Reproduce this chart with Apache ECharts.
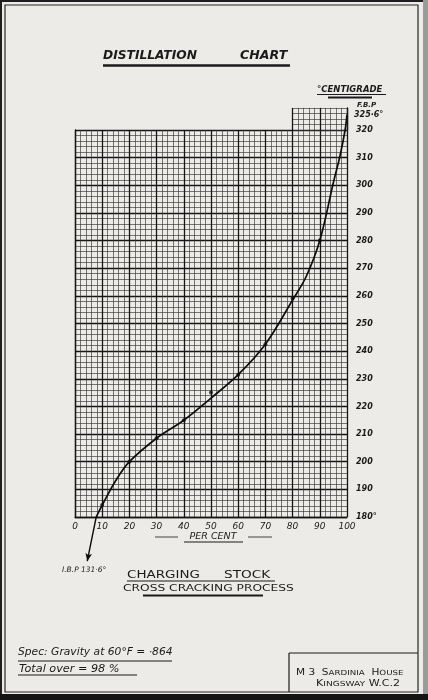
<!DOCTYPE html>
<html>
<head>
<meta charset="utf-8">
<script src="https://cdn.jsdelivr.net/npm/echarts@6/dist/echarts.min.js"></script>
<style>
  html, body { margin: 0; padding: 0; background: #ecebe8; }
  #chart { width: 428px; height: 700px; }
</style>
</head>
<body>
<div id="chart"></div>
<script>
// distillation curve (per cent distilled / deg C)
const percent = [7.8, 10, 15, 20, 30, 40, 50, 60, 70, 80, 85, 90, 95, 97.4, 99.3, 100];
const temp = [180, 184.3, 193.2, 200, 208.5, 215, 223, 231.5, 242.5, 258.5, 267, 280, 301, 310.5, 320, 325.6];

// the little tick marks on the curve (test readings)
const testPercent = [10, 20, 30, 40, 50, 60, 70, 80, 90];
const testTemp = [184.3, 200, 208.5, 215, 225, 231.5, 242.5, 259, 280];

// arrow down to I.B.P
const ibpPercent = [7.8, 4.5];
const ibpTemp = [180, 164];

const xTicks = [0, 10, 20, 30, 40, 50, 60, 70, 80, 90, 100];
const yTicks = [180, 190, 200, 210, 220, 230, 240, 250, 260, 270, 280, 290, 300, 310, 320];
const extX = [80, 100];   // the raised bit of paper above 320
const extY = [320, 328];

const ink = '#1b1b1b';
const hand = '"DejaVu Sans", sans-serif';

const myChart = echarts.init(document.getElementById('chart'), null, { renderer: 'canvas' });

// grid geometry
const gl = 75, gt = 130, gw = 272, gh = 387;
const pxPerDeg = gh / (yTicks[yTicks.length - 1] - yTicks[0]);
const pxPerPc = gw / (xTicks[xTicks.length - 1] - xTicks[0]);

const major = { show: true, lineStyle: { color: '#151515', width: 1.3 } };
const minor = { show: true, lineStyle: { color: '#333', width: 0.65 } };

const text = (x, y, t, font, extra) => Object.assign({
  type: 'text', x: x, y: y,
  style: { text: t, font: font, fill: ink, verticalAlign: 'middle' }
}, extra || {});
const line = (x1, y1, x2, y2, w) => ({
  type: 'line', shape: { x1: x1, y1: y1, x2: x2, y2: y2 },
  style: { stroke: ink, lineWidth: w || 1 }
});

const option = {
  backgroundColor: '#ecebe8',
  animation: false,
  grid: [
    { left: gl, top: gt, width: gw, height: gh },
    {
      left: gl + (extX[0] - xTicks[0]) * pxPerPc,
      top: gt - (extY[1] - extY[0]) * pxPerDeg,
      width: (extX[1] - extX[0]) * pxPerPc,
      height: (extY[1] - extY[0]) * pxPerDeg
    }
  ],
  xAxis: [
    {
      type: 'value', gridIndex: 0,
      min: xTicks[0], max: xTicks[xTicks.length - 1], interval: 10,
      axisLine: { show: true, lineStyle: { color: '#151515', width: 1.3 } },
      axisTick: { show: false },
      minorTick: { show: false, splitNumber: 5 },
      splitLine: major,
      minorSplitLine: minor,
      axisLabel: {
        margin: 5, color: ink, fontSize: 9, fontStyle: 'italic', fontFamily: hand,
        formatter: v => xTicks.includes(v) ? String(v) : ''
      }
    },
    {
      type: 'value', gridIndex: 1,
      min: extX[0], max: extX[1], interval: 10,
      axisLine: { show: false }, axisTick: { show: false }, axisLabel: { show: false },
      minorTick: { show: false, splitNumber: 5 },
      splitLine: major,
      minorSplitLine: minor
    }
  ],
  yAxis: [
    {
      type: 'value', gridIndex: 0, position: 'right',
      min: yTicks[0], max: yTicks[yTicks.length - 1], interval: 10,
      axisLine: { show: true, lineStyle: { color: '#151515', width: 1.3 } },
      axisTick: { show: false },
      minorTick: { show: false, splitNumber: 5 },
      splitLine: major,
      minorSplitLine: minor,
      axisLabel: {
        margin: 9, color: ink, fontSize: 8, fontStyle: 'italic', fontWeight: 'bold', fontFamily: hand,
        formatter: v => v === yTicks[0] ? v + '°' : String(v)
      }
    },
    {
      type: 'value', gridIndex: 1, position: 'right',
      min: extY[0], max: extY[1], interval: 2,
      axisLine: { show: true, lineStyle: { color: '#151515', width: 1.3 } },
      axisTick: { show: false }, axisLabel: { show: false },
      splitLine: minor
    }
  ],
  series: [
    {
      name: 'curve',
      type: 'line',
      xAxisIndex: 0, yAxisIndex: 0,
      data: percent.map((p, i) => [p, temp[i]]),
      smooth: 0.35,
      showSymbol: false,
      clip: false,
      lineStyle: { color: '#0d0d0d', width: 1.7 },
      z: 5
    },
    {
      name: 'tests',
      type: 'scatter',
      xAxisIndex: 0, yAxisIndex: 0,
      data: testPercent.map((p, i) => [p, testTemp[i]]),
      symbol: 'circle',
      symbolSize: 4,
      itemStyle: { color: '#0d0d0d' },
      z: 6
    },
    {
      name: 'ibp',
      type: 'line',
      xAxisIndex: 0, yAxisIndex: 0,
      clip: false,
      data: ibpPercent.map((p, i) => i === ibpPercent.length - 1
        ? { value: [p, ibpTemp[i]], symbol: 'arrow', symbolSize: [5, 8], symbolRotate: 169 }
        : { value: [p, ibpTemp[i]], symbol: 'none' }),
      showSymbol: true,
      itemStyle: { color: '#0d0d0d' },
      lineStyle: { color: '#0d0d0d', width: 1.4 },
      z: 5
    }
  ],
  graphic: [
    // photo edges and the card's frame
    { type: 'rect', shape: { x: 0, y: 0, width: 428, height: 2 }, style: { fill: '#1e1e1e' } },
    { type: 'rect', shape: { x: 0, y: 0, width: 2, height: 700 }, style: { fill: '#1e1e1e' } },
    { type: 'rect', shape: { x: 423, y: 0, width: 5, height: 700 }, style: { fill: '#9b9b99' } },
    { type: 'rect', shape: { x: 0, y: 694, width: 428, height: 6 }, style: { fill: '#141414' } },
    { type: 'rect', shape: { x: 5, y: 5, width: 413, height: 687 }, style: { fill: 'none', stroke: '#262626', lineWidth: 1.2 } },

    // title
    text(103, 56, 'DISTILLATION', 'italic bold 12px ' + hand, { scaleX: 1.02 }),
    text(240, 56, 'CHART', 'italic bold 12px ' + hand, { scaleX: 1.05 }),
    line(103, 65.5, 290, 65.5, 2.5),

    // units
    text(317, 90, '°CENTIGRADE', 'italic bold 8.5px ' + hand),
    line(317, 94.5, 386, 94.5, 1),
    line(328, 97.5, 372, 97.5, 1.8),
    text(357, 105, 'F.B.P', 'italic bold 7px ' + hand),
    text(354, 115, '325·6°', 'italic bold 8px ' + hand),

    // x title
    { type: 'text', x: 213, y: 537, style: { text: 'PER CENT', font: 'italic 9.5px ' + hand, fill: ink, verticalAlign: 'middle', align: 'center' } },
    line(155, 537, 178, 537, 0.8),
    line(248, 537, 272, 537, 0.8),
    line(184, 542, 243, 542, 1.2),

    text(62, 570, 'I.B.P 131·6°', 'italic 7.5px ' + hand),

    // captions
    text(127, 575, 'CHARGING', '10.5px ' + hand, { scaleX: 1.28 }),
    text(224, 575, 'STOCK', '10.5px ' + hand, { scaleX: 1.3 }),
    line(127, 581, 275, 581, 1.2),
    text(123, 589, 'CROSS CRACKING PROCESS', '9px ' + hand, { scaleX: 1.36 }),
    line(143, 595.5, 263, 595.5, 2),

    // notes bottom left
    text(18, 652, 'Spec: Gravity at 60°F = ·864', 'italic 10.5px ' + hand, { scaleX: 1.02 }),
    line(18, 661, 172, 661, 1),
    text(19, 669, 'Total over = 98 %', 'italic 10.5px ' + hand, { scaleX: 1.07 }),
    line(18, 675, 137, 675, 1),

    // address box
    line(289, 653, 418, 653, 1.2),
    line(289, 653, 289, 692, 1.2),
    {
      type: 'text', x: 296, y: 673, scaleX: 1.24,
      style: {
        text: '{b|M 3  S}{s|ARDINIA}{b|  H}{s|OUSE}',
        verticalAlign: 'middle', fill: ink,
        rich: { b: { font: '8.5px ' + hand, fill: ink }, s: { font: '7px ' + hand, fill: ink } }
      }
    },
    {
      type: 'text', x: 316, y: 684, scaleX: 1.3,
      style: {
        text: '{b|K}{s|INGSWAY}{b| W.C.2}',
        verticalAlign: 'middle', fill: ink,
        rich: { b: { font: '8.5px ' + hand, fill: ink }, s: { font: '7px ' + hand, fill: ink } }
      }
    }
  ]
};

myChart.setOption(option);
</script>
</body>
</html>
